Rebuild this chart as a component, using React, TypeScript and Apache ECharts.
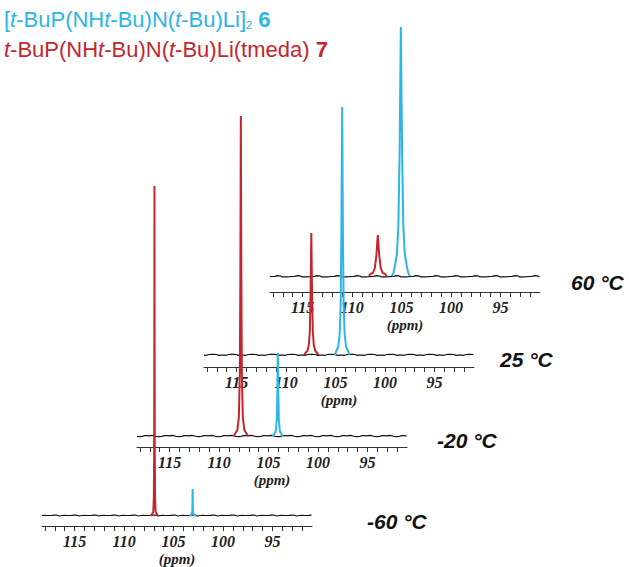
import React, { useEffect, useRef } from "react";
import * as echarts from "echarts";

// Spectrum order: bottom to top
const TEMPERATURES = ["-60 °C", "-20 °C", "25 °C", "60 °C"];
const PPM_LABELS = [95, 100, 105, 110, 115];
const PPM_TICKS = [92, 93, 94, 95, 96, 97, 98, 99, 100, 101, 102, 103, 104, 105, 106, 107, 108, 109, 110, 111, 112, 113, 114, 115, 116, 117, 118];
const PPM_MIN = 91;
const PPM_MAX = 118.3;

// baseline noise (intensity units)
const NOISE = [
  0.5, -0.7, 0.3, 0.8, -0.4, 0.2, -0.9, 0.6, 0.2, -0.5,
  0.7, -0.2, 0.4, -0.8, 0.5, 0.1, -0.6, 0.7, -0.2, 0.3,
  -0.8, 0.5, 0.1, -0.5, 0.9, -0.3, 0.2, -0.7, 0.6, -0.1,
  0.4, -0.8, 0.5, 0.2, -0.5, 0.8, -0.2, 0.3, -0.6, 0.7,
  0.1, -0.4, 0.8, -0.5, 0.2, -0.2, 0.6, -0.8, 0.4, 0.0,
  -0.5, 0.7, -0.3, 0.5, -0.7, 0.2,
];

// compound 7 (red) peaks, [ppm, intensity]
const RED_M60 = [[107.33, 0], [107.18, 2], [107.05, 4], [106.99, 19], [106.96, 66], [106.945, 165], [106.93, 330], [106.915, 165], [106.9, 66], [106.87, 19], [106.81, 4], [106.68, 2], [106.53, 0]];
const RED_M20 = [[108.5, 0], [108.4, 2], [108.15, 6], [108.0, 19], [107.9, 64], [107.85, 160], [107.8, 320], [107.75, 160], [107.7, 64], [107.6, 19], [107.45, 6], [107.2, 2], [107.1, 0]];
const RED_25 = [[108.15, 0], [108.05, 2], [107.85, 4], [107.7, 10], [107.6, 24], [107.525, 61], [107.45, 122], [107.375, 61], [107.3, 24], [107.2, 10], [107.05, 4], [106.85, 2], [106.75, 0]];
const RED_60 = [[108.3, 0], [108.15, 2], [107.9, 3], [107.7, 8], [107.55, 20], [107.4, 41], [107.25, 20], [107.1, 8], [106.9, 3], [106.65, 2], [106.5, 0]];

// compound 6 (blue) peaks
const BLUE_M60 = [[103.4, 0], [103.25, 1], [103.15, 2], [103.1, 5], [103.085, 13], [103.07, 27], [103.055, 13], [103.04, 5], [102.99, 2], [102.89, 1], [102.74, 0]];
const BLUE_M20 = [[104.6, 0], [104.41, 2], [104.26, 5], [104.16, 17], [104.11, 41], [104.06, 83], [104.01, 41], [103.96, 17], [103.86, 5], [103.71, 2], [103.55, 0]];
const BLUE_25 = [[105.05, 0], [104.93, 4], [104.73, 8], [104.58, 21], [104.48, 50], [104.405, 124], [104.33, 248], [104.255, 124], [104.18, 50], [104.08, 21], [103.93, 8], [103.73, 4], [103.6, 0]];
const BLUE_60 = [[106.0, 0], [105.82, 3], [105.67, 10], [105.47, 22], [105.32, 50], [105.195, 124], [105.07, 249], [104.945, 124], [104.82, 50], [104.67, 22], [104.47, 10], [104.32, 3], [104.15, 0]];

const RED_PEAKS = [RED_M60, RED_M20, RED_25, RED_60];
const BLUE_PEAKS = [BLUE_M60, BLUE_M20, BLUE_25, BLUE_60];

const CYAN = "#2cb5e8";
const RED = "#c4262e";

// layout per spectrum: left of axis, y of axis line, gap between baseline and axis
const LAYOUT = [
  { left: 42, axisY: 526, gap: 10, labelX: 367, labelY: 522 },
  { left: 137, axisY: 447, gap: 11, labelX: 437, labelY: 441 },
  { left: 204, axisY: 367, gap: 12, labelX: 500, labelY: 360 },
  { left: 270, axisY: 292, gap: 16, labelX: 571, labelY: 283 },
];
const GRID_TOP = 20;
const AXIS_WIDTH = 270;

export default function App() {
  const ref = useRef<HTMLDivElement>(null);
  useEffect(() => {
    if (!ref.current) return;
    const chart = echarts.init(ref.current, undefined, { renderer: "svg" });
    const grids: any[] = [];
    const xAxes: any[] = [];
    const yAxes: any[] = [];
    const series: any[] = [];
    const graphics: any[] = [];
    LAYOUT.forEach((L, k) => {
      const h = L.axisY - GRID_TOP;
      grids.push({ left: L.left, top: GRID_TOP, width: AXIS_WIDTH, height: h, outerBoundsMode: "none", containLabel: false });
      xAxes.push({
        gridIndex: k,
        type: "value",
        inverse: true,
        min: PPM_MIN,
        max: PPM_MAX,
        name: "(ppm)",
        nameLocation: "middle",
        nameGap: 25,
        nameMoveOverlap: false,
        nameTextStyle: { fontFamily: "Liberation Serif", fontStyle: "italic", fontWeight: "bold", fontSize: 15, color: "#222" },
        axisLine: { show: true, onZero: false, lineStyle: { color: "#333", width: 1 } },
        axisTick: { show: true, length: 5, customValues: PPM_TICKS, lineStyle: { color: "#333" } },
        axisLabel: {
          customValues: PPM_LABELS,
          margin: 7,
          fontFamily: "Liberation Serif",
          fontStyle: "italic",
          fontWeight: "bold",
          fontSize: 16,
          color: "#222",
        },
        splitLine: { show: false },
      });
      yAxes.push({ gridIndex: k, type: "value", min: -L.gap, max: h - L.gap, show: false });
      const base: number[][] = [];
      for (let i = 0; i * 0.25 <= PPM_MAX - PPM_MIN; i++) {
        base.push([PPM_MAX - 0.25 * i, NOISE[(i * 7 + 9 * k) % NOISE.length]]);
      }
      series.push({
        type: "line", xAxisIndex: k, yAxisIndex: k, data: base, showSymbol: false,
        lineStyle: { color: "#111", width: 1.2 }, z: 2, silent: true,
      });
      series.push({
        type: "line", xAxisIndex: k, yAxisIndex: k, data: RED_PEAKS[k], showSymbol: false,
        lineStyle: { color: RED, width: 2 }, z: 3, silent: true,
      });
      series.push({
        type: "line", xAxisIndex: k, yAxisIndex: k, data: BLUE_PEAKS[k], showSymbol: false,
        lineStyle: { color: CYAN, width: 2 }, z: 3, silent: true,
      });
      graphics.push({
        type: "text", left: L.labelX, top: L.labelY - 11,
        style: { text: TEMPERATURES[k], fill: "#111", fontFamily: "Liberation Sans", fontStyle: "italic", fontWeight: "bold", fontSize: 21 },
      });
    });
    const fam = "Liberation Sans";
    const fs = 22;
    graphics.push({
      type: "text", left: 4, top: 8,
      style: {
        text: "[{i|t}-BuP(NH{i|t}-Bu)N({i|t}-Bu)Li]{s|2} {b|6}",
        fill: CYAN, fontFamily: fam, fontSize: fs,
        rich: {
          i: { fill: CYAN, fontFamily: fam, fontSize: fs, fontStyle: "italic" },
          s: { fill: CYAN, fontFamily: fam, fontSize: 11, verticalAlign: "bottom" },
          b: { fill: CYAN, fontFamily: fam, fontSize: fs, fontWeight: "bold" },
        },
      },
    });
    graphics.push({
      type: "text", left: 4, top: 38,
      style: {
        text: "{i|t}-BuP(NH{i|t}-Bu)N({i|t}-Bu)Li(tmeda) {b|7}",
        fill: RED, fontFamily: fam, fontSize: fs,
        rich: {
          i: { fill: RED, fontFamily: fam, fontSize: fs, fontStyle: "italic" },
          b: { fill: RED, fontFamily: fam, fontSize: fs, fontWeight: "bold" },
        },
      },
    });
    chart.setOption({
      animation: false,
      backgroundColor: "#fff",
      grid: grids,
      xAxis: xAxes,
      yAxis: yAxes,
      series,
      graphic: graphics,
    });
    return () => chart.dispose();
  }, []);
  return <div ref={ref} style={{ position: "fixed", left: 0, top: 0, width: 629, height: 567 }} />;
}
